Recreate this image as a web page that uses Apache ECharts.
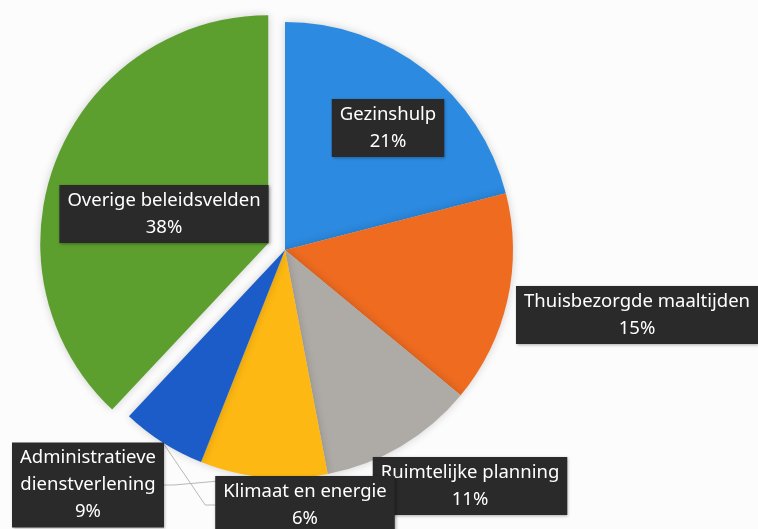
<!DOCTYPE html>
<html>
<head>
<meta charset="utf-8">
<script src="https://cdn.jsdelivr.net/npm/echarts@6/dist/echarts.min.js"></script>
<style>
html,body{margin:0;padding:0;background:#fcfcfc;}
#chart{width:758px;height:529px;}
</style>
</head>
<body>
<div id="chart"></div>
<script>
// Data (clockwise from 12 o'clock)
const categories = ['Gezinshulp', 'Thuisbezorgde maaltijden', 'Ruimtelijke planning', 'Administratieve\ndienstverlening', 'Klimaat en energie', 'Overige beleidsvelden'];
const values = [21, 15, 11, 9, 6, 38];
const colors = ['#2c8ae0', '#ee6b20', '#aeaaa6', '#fdb813', '#1b5cc8', '#5c9f2e'];
const explodedIndex = 5;
const withLeader = [false, false, false, true, true, false];

// label layout (positions only)
const labelPos = [
  {x: 388, y: 128},
  {x: 637, y: 315},
  {x: 470, y: 486},
  {x: 88, y: 485},
  {x: 305, y: 505},
  {x: 164, y: 214}
];

const center = [285, 250];
const radius = 228;
const explodeOffset = 18;

// direction of the exploded slice (mid-angle, clockwise from 12 o'clock)
const total = values.reduce((a, b) => a + b, 0);
const before = values.slice(0, explodedIndex).reduce((a, b) => a + b, 0);
const midAngle = (before + values[explodedIndex] / 2) / total * 2 * Math.PI;
const explodedCenter = [center[0] + explodeOffset * Math.sin(midAngle), center[1] - explodeOffset * Math.cos(midAngle)];

const labelStyle = {
  show: true,
  position: 'outside',
  formatter: '{b}\n{d}%',
  color: '#ffffff',
  fontFamily: 'Noto Sans',
  fontSize: 18.5,
  lineHeight: 27,
  align: 'center',
  backgroundColor: '#2a2a2a',
  padding: [2, 8, 2, 8],
  shadowColor: 'rgba(0,0,0,0.35)',
  shadowBlur: 3,
  shadowOffsetX: 1,
  shadowOffsetY: 1
};

function makeData(visible) {
  return categories.map((name, i) => {
    const show = visible(i);
    return {
      name: name,
      value: values[i],
      itemStyle: show ? {color: colors[i]} : {color: 'rgba(0,0,0,0)', shadowBlur: 0},
      label: {show: show},
      labelLine: {show: show && withLeader[i]}
    };
  });
}

function makeSeries(c, visible) {
  return {
    type: 'pie',
    center: c,
    radius: radius,
    startAngle: 90,
    clockwise: true,
    avoidLabelOverlap: false,
    percentPrecision: 0,
    emphasis: {disabled: true},
    itemStyle: {shadowBlur: 8, shadowColor: 'rgba(0,0,0,0.18)'},
    label: labelStyle,
    labelLine: {length: 10, length2: 10, lineStyle: {color: '#b8b8b8', width: 1}},
    labelLayout: function (params) {
      const p = labelPos[params.dataIndex];
      return {x: p.x, y: p.y, align: 'center', verticalAlign: 'middle', hideOverlap: false};
    },
    data: makeData(visible)
  };
}

const chart = echarts.init(document.getElementById('chart'), null, {renderer: 'canvas'});
chart.setOption({
  backgroundColor: '#fcfcfc',
  animation: false,
  series: [
    makeSeries(explodedCenter, i => i === explodedIndex),
    makeSeries(center, i => i !== explodedIndex)
  ]
});
</script>
</body>
</html>
